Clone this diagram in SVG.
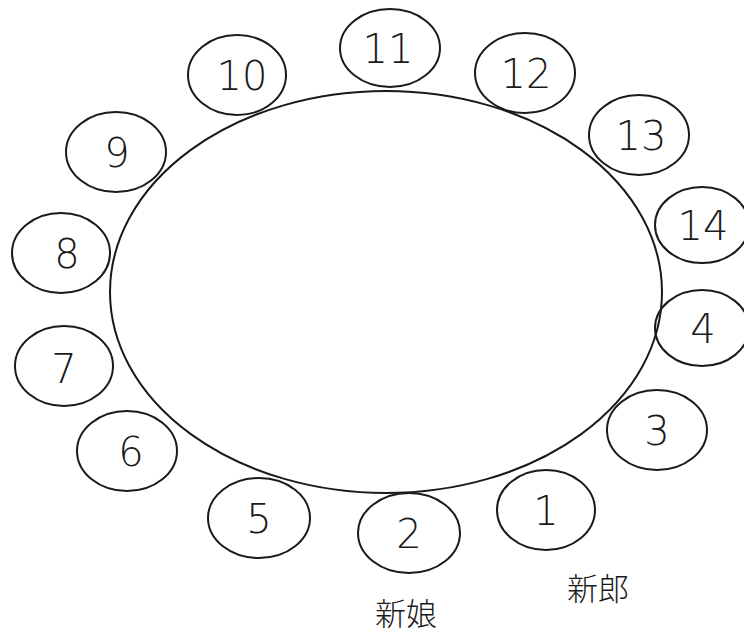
<svg xmlns="http://www.w3.org/2000/svg" width="744" height="635" viewBox="0 0 744 635">
<style>
.seat{fill:none;stroke:#1a1a1a;stroke-width:2}
.num{font-family:"DejaVu Sans","Liberation Sans",sans-serif;font-weight:300;font-size:40px;fill:#1a1a1a;text-anchor:middle}
.lbl{font-family:"Liberation Sans","Noto Sans CJK JP",sans-serif;font-weight:300;font-size:31px;fill:#1a1a1a;text-anchor:middle}
</style>
<rect width="744" height="635" fill="#ffffff"/>
<g id="connectors"></g>
<g id="table"><ellipse cx="386" cy="292" rx="276" ry="201" class="seat"/></g>
<g id="seat1"><ellipse cx="546" cy="510" rx="49" ry="40" class="seat"/><text x="546" y="525" class="num">1</text></g>
<g id="seat2"><ellipse cx="409" cy="533" rx="51" ry="40" class="seat"/><text x="409" y="548" class="num">2</text></g>
<g id="seat3"><ellipse cx="657" cy="430" rx="50" ry="40" class="seat"/><text x="657" y="445" class="num">3</text></g>
<g id="seat4"><ellipse cx="702" cy="328" rx="47" ry="38" class="seat"/><text x="703" y="343" class="num">4</text></g>
<g id="seat5"><ellipse cx="259" cy="518" rx="51" ry="40" class="seat"/><text x="259" y="533" class="num">5</text></g>
<g id="seat6"><ellipse cx="127" cy="451" rx="50" ry="40" class="seat"/><text x="131" y="466" class="num">6</text></g>
<g id="seat7"><ellipse cx="64" cy="366" rx="49" ry="40" class="seat"/><text x="64" y="383" class="num">7</text></g>
<g id="seat8"><ellipse cx="61" cy="253" rx="49" ry="40" class="seat"/><text x="67" y="268" class="num">8</text></g>
<g id="seat9"><ellipse cx="116" cy="152" rx="50" ry="40" class="seat"/><text x="117" y="167" class="num">9</text></g>
<g id="seat10"><ellipse cx="237" cy="75" rx="49" ry="40" class="seat"/><text x="242" y="90" class="num">10</text></g>
<g id="seat11"><ellipse cx="390" cy="48" rx="50" ry="39" class="seat"/><text x="388" y="63" class="num">11</text></g>
<g id="seat12"><ellipse cx="525" cy="73" rx="50" ry="40" class="seat"/><text x="526" y="88" class="num">12</text></g>
<g id="seat13"><ellipse cx="639" cy="135" rx="50" ry="40" class="seat"/><text x="641" y="150" class="num">13</text></g>
<g id="seat14"><ellipse cx="702" cy="225" rx="47" ry="38" class="seat"/><text x="703" y="240" class="num">14</text></g>
<g id="groom"><text x="598" y="600" class="lbl">新郎</text></g>
<g id="bride"><text x="406" y="625" class="lbl">新娘</text></g>
</svg>
